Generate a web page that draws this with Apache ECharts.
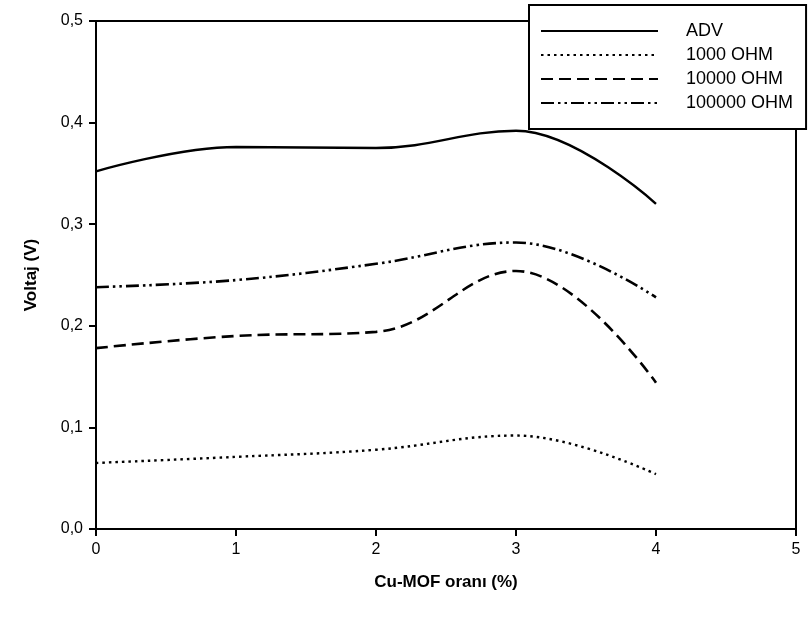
<!DOCTYPE html>
<html>
<head>
<meta charset="utf-8">
<script src="https://cdn.jsdelivr.net/npm/echarts@6/dist/echarts.min.js"></script>
<style>html,body{margin:0;padding:0;background:#fff}#c{width:809px;height:619px}</style>
</head>
<body>
<div id="c"></div>
<script>
const xValues = [0, 1, 2, 3, 4];
const seriesNames = ['ADV', '1000 OHM', '10000 OHM', '100000 OHM'];
const adv = [0.352, 0.376, 0.375, 0.392, 0.320];
const ohm1000 = [0.065, 0.071, 0.078, 0.092, 0.054];
const ohm10000 = [0.178, 0.190, 0.194, 0.254, 0.144];
const ohm100000 = [0.238, 0.245, 0.261, 0.282, 0.228];
const yTicks = [0, 0.1, 0.2, 0.3, 0.4, 0.5];

const font = '"Liberation Sans", Arial, sans-serif';
const styles = [
  { type: 'solid', width: 2.4 },
  { type: [2.5, 4], width: 2.4 },
  { type: [12, 6], width: 2.6 },
  { type: [13, 4, 2.5, 4, 2.5, 4], width: 2.6 }
];
const allData = [adv, ohm1000, ohm10000, ohm100000];

const chart = echarts.init(document.getElementById('c'), null, { renderer: 'canvas' });
chart.setOption({
  animation: false,
  backgroundColor: '#fff',
  grid: { left: 96, right: 13, top: 21, bottom: 90, show: true, borderColor: '#000', borderWidth: 2, backgroundColor: 'transparent' },
  legend: {
    orient: 'vertical',
    left: 529, top: 5,
    backgroundColor: '#fff',
    borderColor: '#000', borderWidth: 2, borderRadius: 0,
    padding: [17, 13, 17, 11],
    itemWidth: 117, itemHeight: 14, itemGap: 6,
    textStyle: { fontFamily: font, fontSize: 18, lineHeight: 18, color: '#000', padding: [0, 0, 0, 23] },
    data: seriesNames.map((n, i) => ({ name: n, itemStyle: { opacity: 0 } }))
  },
  xAxis: {
    type: 'value', min: 0, max: 5, interval: 1,
    name: 'Cu-MOF oranı (%)', nameLocation: 'middle', nameGap: 45,
    nameTextStyle: { fontFamily: font, fontSize: 17, fontWeight: 'bold', color: '#000' },
    axisLine: { show: true, onZero: false, lineStyle: { color: '#000', width: 2 } },
    axisTick: { show: true, length: 7, lineStyle: { color: '#000', width: 2 } },
    axisLabel: { fontFamily: font, fontSize: 16, color: '#000', margin: 13 },
    splitLine: { show: false }
  },
  yAxis: {
    type: 'value', min: 0, max: 0.5, interval: 0.1,
    name: 'Voltaj (V)', nameLocation: 'middle', nameGap: 56, nameRotate: 90,
    nameTextStyle: { fontFamily: font, fontSize: 17, fontWeight: 'bold', color: '#000' },
    axisLine: { show: true, lineStyle: { color: '#000', width: 2 } },
    axisTick: { show: true, length: 7, lineStyle: { color: '#000', width: 2 } },
    axisLabel: { fontFamily: font, fontSize: 16, color: '#000', margin: 13,
      formatter: v => v.toFixed(1).replace('.', ',') },
    splitLine: { show: false }
  },
  series: seriesNames.map((n, i) => ({
    name: n,
    type: 'line',
    smooth: 0.4,
    symbol: 'none',
    data: xValues.map((x, j) => [x, allData[i][j]]),
    lineStyle: { color: '#000', width: styles[i].width, type: styles[i].type },
    itemStyle: { color: '#000' }
  }))
});
</script>
</body>
</html>
